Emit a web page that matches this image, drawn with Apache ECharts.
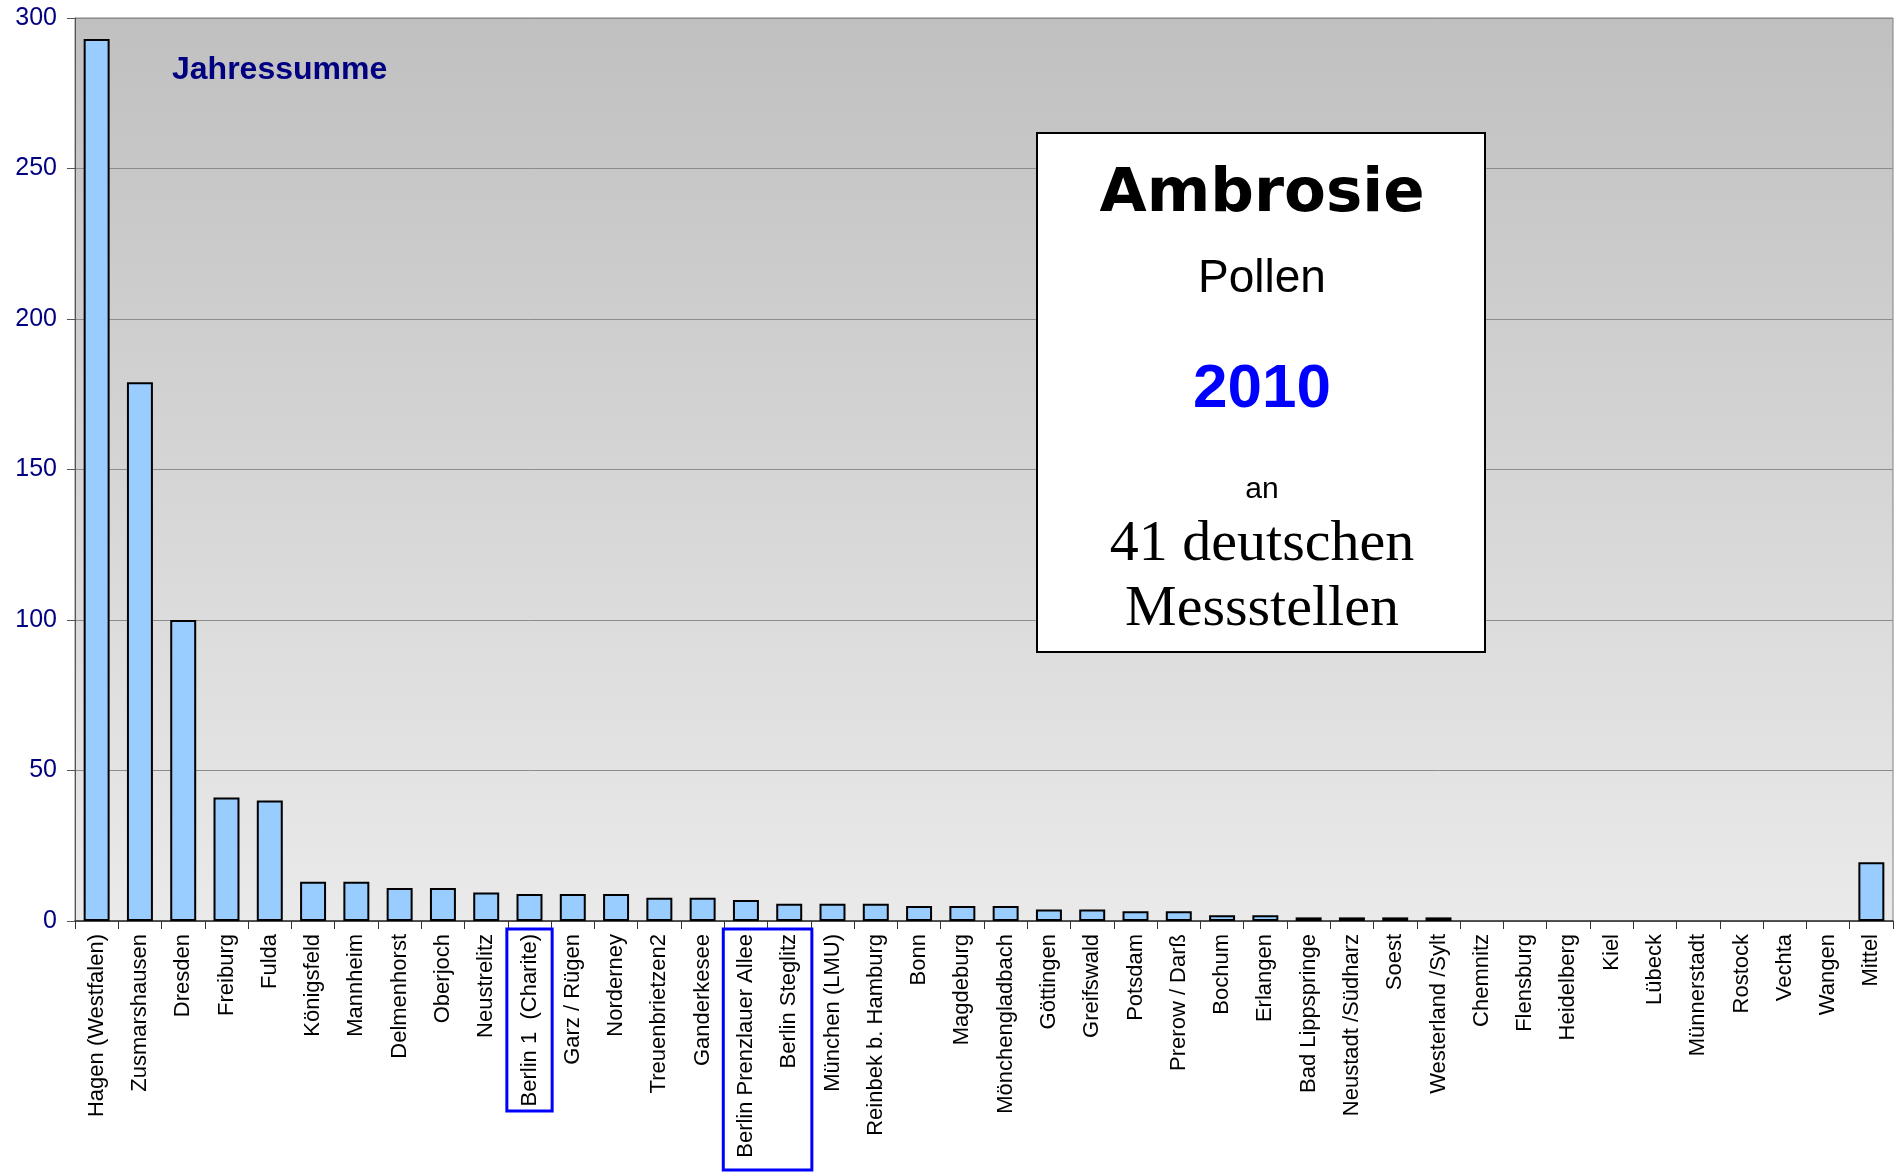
<!DOCTYPE html>
<html>
<head>
<meta charset="utf-8">
<title>Ambrosie Pollen 2010</title>
<script src="https://cdn.jsdelivr.net/npm/echarts@6/dist/echarts.min.js"></script>
<style>
  html, body { margin: 0; padding: 0; background: #fff; }
  #chart { width: 1896px; height: 1173px; }
</style>
</head>
<body>
<div id="chart"></div>
<script>
var stations = [
  'Hagen (Westfalen)', 'Zusmarshausen', 'Dresden', 'Freiburg', 'Fulda',
  'Königsfeld', 'Mannheim', 'Delmenhorst', 'Oberjoch', 'Neustrelitz',
  'Berlin 1  (Charite)', 'Garz / Rügen', 'Norderney', 'Treuenbrietzen2', 'Ganderkesee',
  'Berlin Prenzlauer Allee', 'Berlin Steglitz', 'München (LMU)', 'Reinbek b. Hamburg', 'Bonn',
  'Magdeburg', 'Mönchengladbach', 'Göttingen', 'Greifswald', 'Potsdam',
  'Prerow / Darß', 'Bochum', 'Erlangen', 'Bad Lippspringe', 'Neustadt /Südharz',
  'Soest', 'Westerland /Sylt', 'Chemnitz', 'Flensburg', 'Heidelberg',
  'Kiel', 'Lübeck', 'Münnerstadt', 'Rostock', 'Vechta',
  'Wangen', 'Mittel'
]
var jahressumme = [
  293, 179, 100, 41, 40,
  13, 13, 11, 11, 9.5,
  9, 9, 9, 7.7, 7.7,
  7, 5.7, 5.7, 5.7, 5,
  5, 5, 3.8, 3.8, 3.2,
  3.2, 1.9, 1.9, 1.2, 1.2,
  1.2, 1.2, 0, 0, 0,
  0, 0, 0, 0, 0,
  0, 19.5
]
var yTicks = [0, 50, 100, 150, 200, 250, 300]
// stations framed in blue below the axis
var highlighted = [['Berlin 1  (Charite)'], ['Berlin Prenzlauer Allee', 'Berlin Steglitz']]

var chart = echarts.init(document.getElementById('chart'))

var boxCenterX = 1262

function infoBox() {
  return [
    {
      type: 'rect',
      shape: { x: 1037, y: 133, width: 448, height: 519 },
      style: { fill: '#fff', stroke: '#000', lineWidth: 2 },
      z: 10
    },
    {
      type: 'text', x: boxCenterX, y: 195, z: 11,
      style: { text: 'Ambrosie', fill: '#000', font: 'bold 61px "Comic Sans MS", "DejaVu Sans", sans-serif', align: 'center', verticalAlign: 'middle' }
    },
    {
      type: 'text', x: boxCenterX, y: 279, z: 11,
      style: { text: 'Pollen', fill: '#000', font: '46px "Liberation Sans", Arial, sans-serif', align: 'center', verticalAlign: 'middle' }
    },
    {
      type: 'text', x: boxCenterX, y: 390, z: 11,
      style: { text: '2010', fill: '#0000ff', font: 'bold 62px "Liberation Sans", Arial, sans-serif', align: 'center', verticalAlign: 'middle' }
    },
    {
      type: 'text', x: boxCenterX, y: 490, z: 11,
      style: { text: 'an', fill: '#000', font: '30px "Liberation Sans", Arial, sans-serif', align: 'center', verticalAlign: 'middle' }
    },
    {
      type: 'text', x: boxCenterX, y: 545, z: 11,
      style: { text: '41 deutschen', fill: '#000', font: '58px "Liberation Serif", Georgia, serif', align: 'center', verticalAlign: 'middle' }
    },
    {
      type: 'text', x: boxCenterX, y: 610, z: 11,
      style: { text: 'Messstellen', fill: '#000', font: '58px "Liberation Serif", Georgia, serif', align: 'center', verticalAlign: 'middle' }
    },
    {
      type: 'text', x: 172, y: 70, z: 11,
      style: { text: 'Jahressumme', fill: '#000080', font: 'bold 32px "Liberation Sans", Arial, sans-serif', align: 'left', verticalAlign: 'middle' }
    }
  ]
}

// empty stations get no outline so nothing shows on the axis
var barData = jahressumme.map(function(v) {
  return v === 0 ? { value: v, itemStyle: { borderWidth: 0 } } : v
})

chart.setOption({
  animation: false,
  grid: {
    left: 75,
    right: 3,
    top: 18,
    bottom: 252,
    show: true,
    borderColor: '#808080',
    borderWidth: 1,
    backgroundColor: new echarts.graphic.LinearGradient(0, 0, 0, 1, [
      { offset: 0, color: '#c0c0c0' },
      { offset: 1, color: '#eaeaea' }
    ])
  },
  xAxis: {
    type: 'category',
    data: stations,
    axisLine: { lineStyle: { color: '#333', width: 1.5 } },
    axisTick: { show: true, length: 8, alignWithLabel: false, lineStyle: { color: '#333' } },
    axisLabel: {
      interval: 0,
      rotate: 90,
      margin: 13,
      color: '#000',
      fontSize: 22,
      fontFamily: '"Liberation Sans", Arial, sans-serif'
    }
  },
  yAxis: {
    type: 'value',
    min: yTicks[0],
    max: yTicks[yTicks.length - 1],
    interval: yTicks[1] - yTicks[0],
    axisLine: { show: true, lineStyle: { color: '#555' } },
    axisTick: { show: true, length: 8, lineStyle: { color: '#555' } },
    axisLabel: {
      margin: 18,
      color: '#000080',
      fontSize: 25,
      fontFamily: '"Liberation Sans", Arial, sans-serif'
    },
    splitLine: { lineStyle: { color: '#8c8c8c', width: 1 } }
  },
  series: [{
    name: 'Jahressumme',
    type: 'bar',
    data: barData,
    barWidth: '60%',
    itemStyle: {
      color: '#99ccff',
      borderColor: '#000',
      borderWidth: 2
    }
  }],
  graphic: infoBox()
})

// blue frames round some station labels, placed from the category axis
var p0 = chart.convertToPixel({ xAxisIndex: 0 }, stations[0])
var p1 = chart.convertToPixel({ xAxisIndex: 0 }, stations[1])
var catW = p1 - p0
var frameBottoms = [1111, 1170]
var frames = highlighted.map(function(group, k) {
  var first = chart.convertToPixel({ xAxisIndex: 0 }, group[0])
  var last = chart.convertToPixel({ xAxisIndex: 0 }, group[group.length - 1])
  var x0 = first - catW / 2 - 1
  var x1 = last + catW / 2 + 1
  return {
    type: 'rect',
    shape: { x: x0, y: 929, width: x1 - x0, height: frameBottoms[k] - 929 },
    style: { fill: null, stroke: '#0000ff', lineWidth: 3 },
    z: 12
  }
})

chart.setOption({ graphic: infoBox().concat(frames) })
</script>
</body>
</html>
